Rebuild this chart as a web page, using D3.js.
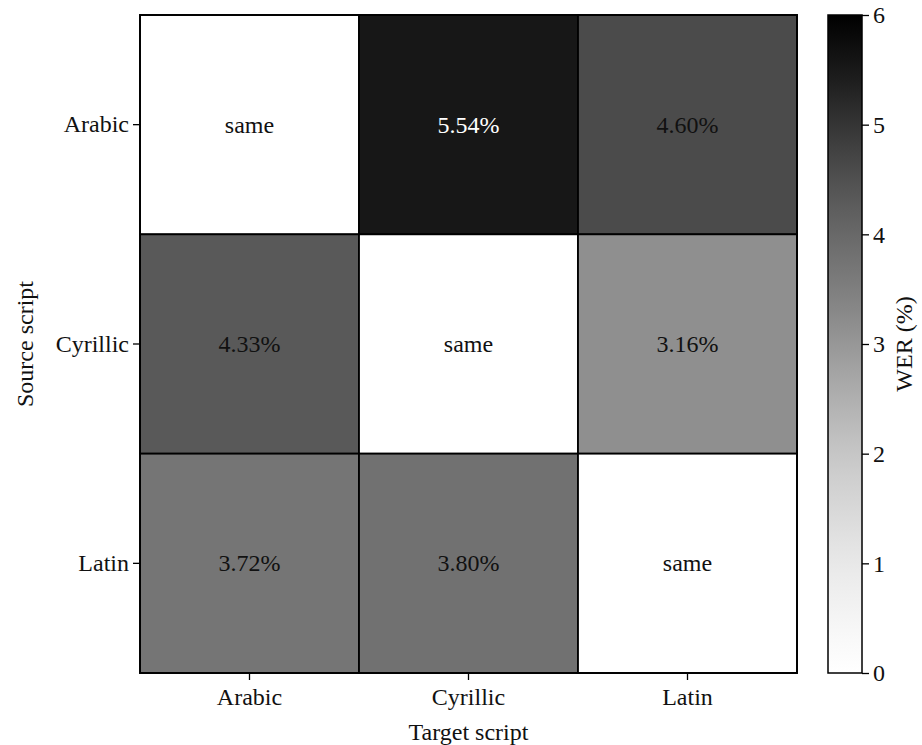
<!DOCTYPE html>
<html><head><meta charset="utf-8">
<script src="https://cdn.jsdelivr.net/npm/d3@7"></script>
<style>body{margin:0;background:#fff}svg{display:block}text{font-family:"Liberation Serif","Times New Roman",serif}</style>
</head><body>
<svg id="c" width="922" height="745"></svg>
<script>
const sources = ["Arabic","Cyrillic","Latin"];
const targets = ["Arabic","Cyrillic","Latin"];
// WER (%) values; null = same script
const werArabic = [null, 5.54, 4.60];
const werCyrillic = [4.33, null, 3.16];
const werLatin = [3.72, 3.80, null];
const colorTicks = [0,1,2,3,4,5,6];

const rows = [werArabic, werCyrillic, werLatin];
const cells = [];
rows.forEach((r,i)=>r.forEach((v,j)=>cells.push({s:sources[i],t:targets[j],v})));

const FS = 24;
const svg = d3.select("#c");
const L=140,R=797,T=15,B=673;
const x = d3.scaleBand().domain(targets).range([L,R]);
const y = d3.scaleBand().domain(sources).range([T,B]);
const color = d3.scaleSequential(d3.interpolateGreys).domain([0,6]);

svg.append("g").selectAll("rect").data(cells).join("rect")
  .attr("x",d=>x(d.t)).attr("y",d=>y(d.s))
  .attr("width",x.bandwidth()).attr("height",y.bandwidth())
  .attr("fill",d=>color(d.v==null?0:d.v))
  .attr("stroke","#000").attr("stroke-width",1.8);

svg.append("g").selectAll("text").data(cells).join("text")
  .attr("x",d=>x(d.t)+x.bandwidth()/2).attr("y",d=>y(d.s)+y.bandwidth()/2)
  .attr("text-anchor","middle").attr("dominant-baseline","central")
  .attr("font-size",FS)
  .attr("fill",d=>d.v!=null && d.v>5?"#fff":"#111")
  .text(d=>d.v==null?"same":d.v.toFixed(2)+"%");

svg.append("rect").attr("x",L).attr("y",T).attr("width",R-L).attr("height",B-T)
  .attr("fill","none").attr("stroke","#000").attr("stroke-width",1.8);

const xa = svg.append("g").attr("transform",`translate(0,${B})`)
  .call(d3.axisBottom(x).tickSize(7).tickPadding(8));
const ya = svg.append("g").attr("transform",`translate(${L},0)`)
  .call(d3.axisLeft(y).tickSize(7).tickPadding(4));
[xa,ya].forEach(a=>{a.select(".domain").remove();a.selectAll("text").attr("font-size",FS).attr("fill","#111").style("font-family",'"Liberation Serif",serif');a.selectAll("line").attr("stroke","#000").attr("stroke-width",1.3);});

svg.append("text").attr("x",(L+R)/2).attr("y",740).attr("text-anchor","middle").attr("font-size",FS).attr("fill","#111").text("Target script");
svg.append("text").attr("transform",`translate(33,${(T+B)/2}) rotate(-90)`).attr("text-anchor","middle").attr("font-size",FS).attr("fill","#111").text("Source script");

// colorbar
const cx0=828,cx1=862;
const cy = d3.scaleLinear().domain([0,6]).range([B,T]);
const defs = svg.append("defs");
const grad = defs.append("linearGradient").attr("id","g").attr("x1",0).attr("y1",1).attr("x2",0).attr("y2",0);
d3.range(0,1.0001,0.05).forEach(t=>grad.append("stop").attr("offset",t).attr("stop-color",color(t*6)));
svg.append("rect").attr("x",cx0).attr("y",T).attr("width",cx1-cx0).attr("height",B-T).attr("fill","url(#g)").attr("stroke","#000").attr("stroke-width",1.5);
const ca = svg.append("g").attr("transform",`translate(${cx1},0)`)
  .call(d3.axisRight(cy).tickValues(colorTicks).tickFormat(d3.format("d")).tickSize(7).tickPadding(4));
ca.select(".domain").remove();
ca.selectAll("text").attr("font-size",FS).attr("fill","#111").style("font-family",'"Liberation Serif",serif');
ca.selectAll("line").attr("stroke","#000").attr("stroke-width",1.3);
svg.append("text").attr("transform",`translate(912,${(T+B)/2}) rotate(-90)`).attr("text-anchor","middle").attr("font-size",FS).attr("fill","#111").text("WER (%)");
</script>
</body></html>
